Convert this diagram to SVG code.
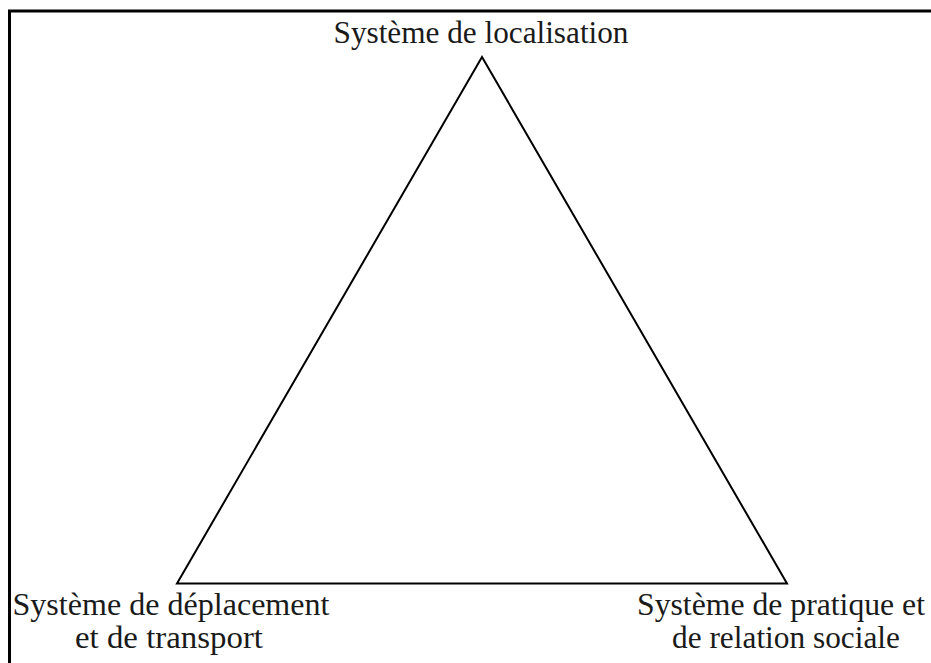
<svg xmlns="http://www.w3.org/2000/svg" width="931" height="663" viewBox="0 0 931 663">
<style>
text{font-family:'Liberation Serif','Times New Roman',Times,serif;font-size:31px;fill:#1a1a1a;}
.edge{fill:none;stroke:#000;stroke-width:2;stroke-linejoin:miter;}
</style>
<rect x="0" y="0" width="931" height="663" fill="#fff"/>
<g id="frame"><path d="M9.5 680 V11 H940" fill="none" stroke="#000" stroke-width="3"/></g>
<g id="connectors">
<path class="edge" d="M482 57 L177 583.5 L787 583.5 Z"/>
</g>
<g id="node-localisation">
<text x="481" y="43" text-anchor="middle" textLength="295" lengthAdjust="spacingAndGlyphs" font-family="Liberation Serif">Système de localisation</text>
</g>
<g id="node-deplacement">
<text x="171" y="615" text-anchor="middle" textLength="317" lengthAdjust="spacingAndGlyphs" font-family="Liberation Serif">Système de déplacement</text>
<text x="169" y="648" text-anchor="middle" textLength="188" lengthAdjust="spacingAndGlyphs" font-family="Liberation Serif">et de transport</text>
</g>
<g id="node-pratique">
<text x="781" y="615" text-anchor="middle" textLength="288" lengthAdjust="spacingAndGlyphs" font-family="Liberation Serif">Système de pratique et</text>
<text x="786" y="648" text-anchor="middle" textLength="228" lengthAdjust="spacingAndGlyphs" font-family="Liberation Serif">de relation sociale</text>
</g>
</svg>
